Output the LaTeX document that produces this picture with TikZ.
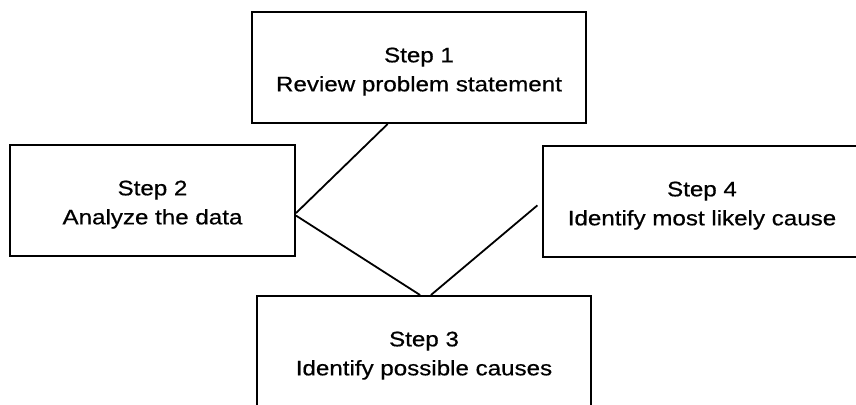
\documentclass[tikz,border=0pt]{standalone}
\usepackage{fontspec}
\setmainfont{Liberation Sans}[FakeStretch=1.15, FakeBold=0.6]
\usepackage{tikz}
\usetikzlibrary{calc}

\begin{document}
\begin{tikzpicture}
  [
    x=1pt,
    y=-1pt,
    stepbox/.style={draw, line width=2pt, align=center, inner sep=0pt,
      minimum height=111pt, text height=52pt, font=\fontsize{21}{29}\selectfont},
    link/.style={line width=1.8pt}
  ]
    \path[use as bounding box] (0,0) rectangle (856,404);
    \clip (0,0) rectangle (856,404);
    %\draw (0,0) rectangle (856,404);
    \node[stepbox, minimum width=334pt] (s1) at (419,67.5) {Step 1\\Review problem statement};
    \node[stepbox, minimum width=285pt] (s2) at (152.5,200.5) {Step 2\\Analyze the data};
    \node[stepbox, minimum width=334pt] (s3) at (424,351.5) {Step 3\\Identify possible causes};
    \node[stepbox, minimum width=318pt] (s4) at (702,201.5) {Step 4\\Identify most likely cause};
    \draw[link] (s1.241) -- (s2.-5);
    \draw[link] (s2.-6) -- (s3.94);
    \draw[link, shorten >=6pt] (s3.83) -- (s4.west);
  \end{tikzpicture}
\end{document}
